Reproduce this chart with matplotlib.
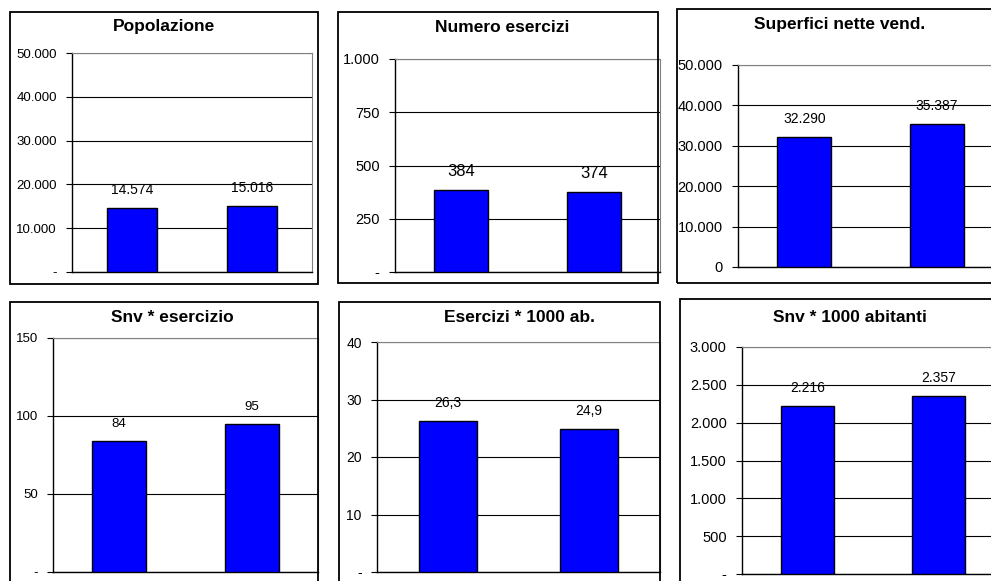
import matplotlib
matplotlib.use("Agg")
import matplotlib.pyplot as plt
from matplotlib.patches import Rectangle
from matplotlib.ticker import FuncFormatter

plt.rcParams["font.family"] = ["Liberation Sans", "DejaVu Sans"]

W, H = 991, 581

# two periods compared in every panel (no x labels shown in the original)
periodi = ["A", "B"]

popolazione = [14574, 15016]
numero_esercizi = [384, 374]
superfici = [32290, 35387]
snv_esercizio = [84, 95]
esercizi_1000 = [26.3, 24.9]
snv_1000 = [2216, 2357]

titoli = ["Popolazione", "Numero esercizi", "Superfici nette vend.",
          "Snv * esercizio", "Esercizi * 1000 ab.", "Snv * 1000 abitanti"]
valori = [popolazione, numero_esercizi, superfici,
          snv_esercizio, esercizi_1000, snv_1000]
ytick_sets = [
    [0, 10000, 20000, 30000, 40000, 50000],
    [0, 250, 500, 750, 1000],
    [0, 10000, 20000, 30000, 40000, 50000],
    [0, 50, 100, 150],
    [0, 10, 20, 30, 40],
    [0, 500, 1000, 1500, 2000, 2500, 3000],
]
decimali = [0, 0, 0, 0, 1, 0]
zero_label = ["-", "-", "0", "-", "-", "-"]

# layout in pixels: outer box (x0, y0, x1, y1), plot area (x0, ytop, x1, ybase), title centre
box_px = [(10, 12, 318, 284), (338, 12, 658, 283), (677, 9, 1010, 283),
          (10, 302, 318, 600), (339, 302, 660, 600), (680, 299, 1010, 600)]
plot_px = [(72, 53, 312, 272), (395, 59, 660, 272), (738, 65, 1003, 267),
           (53, 338, 318, 572), (377, 342, 660, 572), (742, 347, 1004, 574)]
title_px = [(164, 27), (502, 27), (840, 25), (172, 317), (519, 318), (850, 317)]
tick_fs = [9.5, 10.5, 10.5, 9.5, 10.0, 10.5]
value_fs = [10.0, 12.0, 10.0, 9.5, 10.0, 10.0]


def ita(v, dec):
    s = f"{v:,.{dec}f}"
    return s.replace(",", "X").replace(".", ",").replace("X", ".")


fig = plt.figure(figsize=(W / 100, H / 100), dpi=100)
fig.patch.set_facecolor("white")

for i in range(6):
    bx0, by0, bx1, by1 = box_px[i]
    fig.patches.append(Rectangle((bx0 / W, 1 - by1 / H), (bx1 - bx0) / W, (by1 - by0) / H,
                                 transform=fig.transFigure, fill=False,
                                 edgecolor="black", linewidth=1.3, zorder=0))
    px0, pyt, px1, pyb = plot_px[i]
    ax = fig.add_axes([px0 / W, 1 - pyb / H, (px1 - px0) / W, (pyb - pyt) / H])
    ax.set_facecolor("white")

    x = list(range(len(periodi)))
    vals = valori[i]
    ax.bar(x, vals, width=0.41, color="#0000ff", edgecolor="black", linewidth=1.0, zorder=3)
    ax.set_xlim(-0.5, len(periodi) - 0.5)
    ticks = ytick_sets[i]
    ax.set_ylim(0, ticks[-1])
    ax.set_yticks(ticks)
    dec = decimali[i]
    zl = zero_label[i]
    ax.yaxis.set_major_formatter(FuncFormatter(
        lambda v, p, z=zl: z if v == 0 else ita(v, 0)))
    ax.set_xticks([])
    ax.grid(axis="y", color="black", linewidth=0.8, zorder=1)
    ax.tick_params(axis="y", direction="out", length=4, width=0.8, pad=7,
                   labelsize=tick_fs[i], colors="black")
    ax.spines["left"].set_color("black")
    ax.spines["bottom"].set_color("black")
    ax.spines["left"].set_linewidth(1.0)
    ax.spines["bottom"].set_linewidth(1.0)
    ax.spines["top"].set_color("#808080")
    ax.spines["right"].set_color("#808080")

    for xi, v in zip(x, vals):
        ax.annotate(ita(v, dec), (xi, v), xytext=(0, 11), textcoords="offset pixels",
                    ha="center", va="bottom", fontsize=value_fs[i])

    tx, ty = title_px[i]
    fig.text(tx / W, 1 - ty / H, titoli[i], ha="center", va="center",
             fontsize=12.5, fontweight="bold")

fig.savefig("out.png", dpi=100)
